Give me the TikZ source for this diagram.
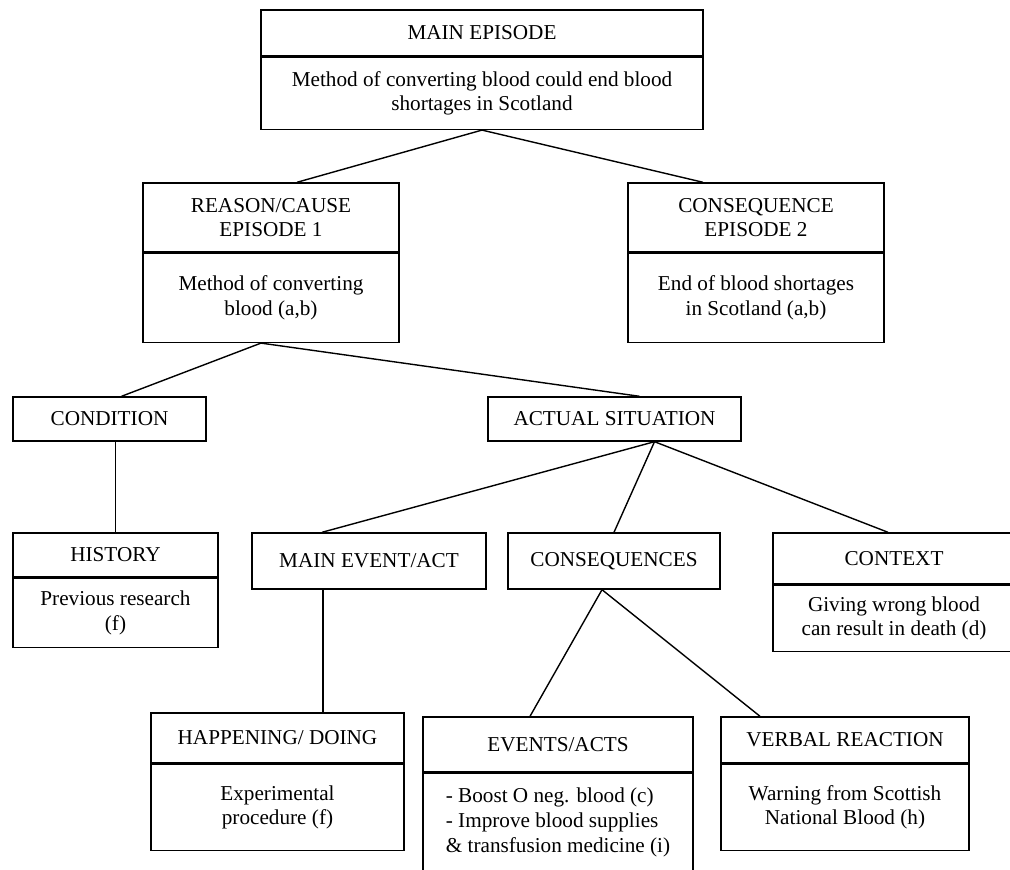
\documentclass[tikz,border=0pt]{standalone}
\usepackage{fontspec}
\setmainfont{Liberation Serif}
\usetikzlibrary{positioning}

\begin{document}
\begin{tikzpicture}[
x=0.5pt, y=-0.5pt,
headbox/.style={
    draw,
    line width=0.7pt,
    align=center,
    inner sep=2pt,
    font=\fontsize{10.6}{12.3}\selectfont
    },
link/.style={line width=0.7pt},
node distance=0pt
]

\useasboundingbox (0,0) rectangle (1010,870);

\node[headbox, minimum width=221pt, minimum height=23pt] (mainhead) at (482,33) {MAIN EPISODE};
\node[headbox, below=of mainhead, minimum width=221pt, minimum height=36pt] (maintxt) {Method of converting blood could end blood\\shortages in Scotland};

\node[headbox, minimum width=128pt, minimum height=34.5pt] (reasonhead) at (271,217.5) {REASON/CAUSE\\EPISODE 1};
\node[headbox, below=of reasonhead, minimum width=128pt, minimum height=44.5pt] (reasontxt) {Method of converting\\blood (a,b)};
\node[headbox, minimum width=128pt, minimum height=34.5pt] (conseqhead) at (756,217.5) {CONSEQUENCE\\EPISODE 2};
\node[headbox, below=of conseqhead, minimum width=128pt, minimum height=44.5pt] (conseqtxt) {End of blood shortages\\in Scotland (a,b)};

\node[headbox, minimum width=96.5pt, minimum height=22pt] (condition) at (109.5,419) {CONDITION};
\node[headbox, minimum width=126.5pt, minimum height=22pt] (actual) at (614.5,419) {ACTUAL SITUATION};

\node[headbox, minimum width=102.5pt, minimum height=22pt] (historyhead) at (115.5,555) {HISTORY};
\node[headbox, below=of historyhead, minimum width=102.5pt, minimum height=34.5pt] (historytxt) {Previous research\\(f)};
\node[headbox, minimum width=117pt, minimum height=28pt] (mainevent) at (369,561) {MAIN EVENT/ACT};
\node[headbox, minimum width=106pt, minimum height=28pt] (consequences) at (614,561) {CONSEQUENCES};
\node[headbox, minimum width=121pt, minimum height=25.5pt] (contexthead) at (894,558.5) {CONTEXT};
\node[headbox, below=of contexthead, minimum width=121pt, minimum height=33pt] (contexttxt) {Giving wrong blood\\can result in death (d)};

\node[headbox, minimum width=126.5pt, minimum height=25pt] (happeninghead) at (277.5,738) {HAPPENING/ DOING};
\node[headbox, below=of happeninghead, minimum width=126.5pt, minimum height=43pt] (happeningtxt) {Experimental\\procedure (f)};
\node[headbox, minimum width=135pt, minimum height=27.5pt] (eventshead) at (558,744.5) {EVENTS/ACTS};
\node[headbox, below=of eventshead, align=left, minimum width=135pt, minimum height=59pt] (eventstxt) {- Boost O neg. blood (c)\\- Improve blood supplies\\\& transfusion medicine (i)\\~};
\node[headbox, minimum width=124pt, minimum height=23pt] (verbalhead) at (845,740) {VERBAL REACTION};
\node[headbox, below=of verbalhead, minimum width=124pt, minimum height=43pt] (verbaltxt) {Warning from Scottish\\National Blood (h)};

\draw[link] (maintxt.south) -- ([xshift=13pt]reasonhead.north);
\draw[link] (maintxt.south) -- ([xshift=-26.5pt]conseqhead.north);
\draw[link] ([xshift=-5pt]reasontxt.south) -- ([xshift=6pt]condition.north);
\draw[link] ([xshift=-5pt]reasontxt.south) -- ([xshift=12.5pt]actual.north);
\draw[link] (condition.south -| historyhead.north) -- (historyhead.north);

\coordinate (actualfoot) at ([xshift=20pt]actual.south);
\draw[link] (actualfoot) -- ([xshift=-23.5pt]mainevent.north);
\draw[link] (actualfoot) -- (consequences.north);
\draw[link] (actualfoot) -- ([xshift=-3pt]contexthead.north);
\draw[link] ([xshift=-23pt]mainevent.south) -- ([xshift=-23pt]mainevent.south |- happeninghead.north);

\coordinate (conseqfoot) at ([xshift=-6pt]consequences.south);
\draw[link] (conseqfoot) -- ([xshift=-14pt]eventshead.north);
\draw[link] (conseqfoot) -- ([xshift=-42.5pt]verbalhead.north);

\end{tikzpicture}
\end{document}
